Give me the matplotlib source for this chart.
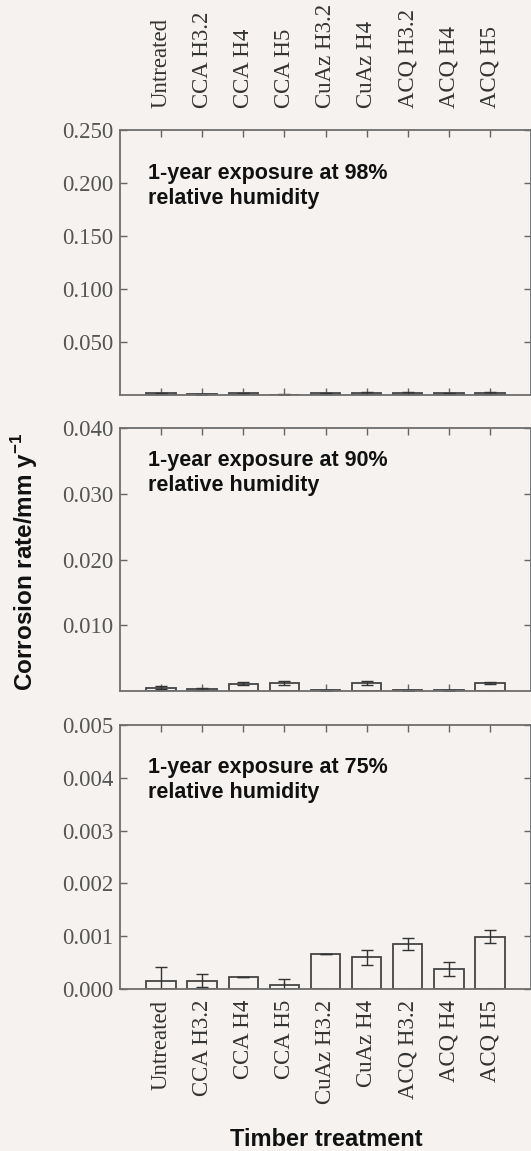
import matplotlib
matplotlib.use("Agg")
import matplotlib.pyplot as plt
import numpy as np

BG = "#f5f2ef"

plt.rcParams.update({
    "figure.facecolor": BG,
    "axes.facecolor": BG,
    "axes.edgecolor": "#6e6e6e",
    "axes.linewidth": 1.3,
    "mathtext.fontset": "custom",
    "mathtext.bf": "Liberation Sans:bold",
    "mathtext.rm": "Liberation Sans:bold",
})

categories = ["Untreated", "CCA H3.2", "CCA H4", "CCA H5", "CuAz H3.2",
              "CuAz H4", "ACQ H3.2", "ACQ H4", "ACQ H5"]

# 98% RH
rh98 = [0.0015, 0.0008, 0.0015, 0.0003, 0.0015, 0.0018, 0.0020, 0.0015, 0.0018]
rh98_err = [0.0008, 0.0005, 0.0008, 0.0005, 0.0006, 0.0008, 0.0012, 0.0008, 0.0008]
# 90% RH
rh90 = [0.0005, 0.0003, 0.0011, 0.0012, 0.0001, 0.0012, 0.0001, 0.0001, 0.0012]
rh90_err = [0.0002, 0.0002, 0.0002, 0.0003, 0.0001, 0.0003, 0.0001, 0.0001, 0.0002]
# 75% RH
rh75 = [0.00016, 0.00016, 0.00022, 0.00007, 0.00067, 0.00060, 0.00085, 0.00038, 0.00099]
rh75_err = [0.00026, 0.00012, 0.0, 0.00011, 0.0, 0.00014, 0.00011, 0.00013, 0.00012]

panel_labels = ["1-year exposure at 98%\nrelative humidity",
                "1-year exposure at 90%\nrelative humidity",
                "1-year exposure at 75%\nrelative humidity"]
ytick_sets = [[0.05, 0.10, 0.15, 0.20, 0.25],
              [0.01, 0.02, 0.03, 0.04],
              [0.000, 0.001, 0.002, 0.003, 0.004, 0.005]]
ytops = [0.25, 0.04, 0.005]

W, H = 531, 1151
# pixel boxes: (top, bottom)
boxes = [(130, 395), (428, 691), (725, 989)]
label_tops = [163, 450, 757]

fig = plt.figure(figsize=(W / 100, H / 100), dpi=100)

serif = "Liberation Serif"
sans = "Liberation Sans"
x = np.arange(1, len(categories) + 1)

for i, (vals, errs) in enumerate([(rh98, rh98_err), (rh90, rh90_err), (rh75, rh75_err)]):
    top, bot = boxes[i]
    ax = fig.add_axes([120 / W, 1 - bot / H, (W - 120) / W, (bot - top) / H])
    ax.bar(x, vals, width=0.72, color=BG, edgecolor="#454545", linewidth=1.3,
           yerr=errs, error_kw=dict(ecolor="#333", elinewidth=1.0, capsize=4, capthick=1.0),
           zorder=2)
    ax.set_xlim(0, 10)
    ax.set_ylim(0, ytops[i])
    ax.set_xticks(x)
    ax.set_yticks(ytick_sets[i])
    ax.set_yticklabels([f"{t:.3f}" for t in ytick_sets[i]], family=serif,
                       fontsize=16.5, color="#555")
    ax.tick_params(axis="both", direction="in", length=5, width=1.0, color="#666",
                   top=True, right=True)
    ax.tick_params(axis="y", pad=5)
    if i == 0:
        ax.tick_params(axis="x", labeltop=True, labelbottom=False, pad=16)
        ax.set_xticklabels(categories, rotation=90, family=serif, fontsize=16.5, color="#333")
    elif i == 2:
        ax.tick_params(axis="x", labelbottom=True, pad=8)
        ax.set_xticklabels(categories, rotation=90, family=serif, fontsize=16.5, color="#333")
    else:
        ax.tick_params(axis="x", labelbottom=False)
    ax.text(148 / W, 1 - label_tops[i] / H, panel_labels[i], transform=fig.transFigure,
            ha="left", va="top", family=sans, fontweight="bold", fontsize=15.5,
            color="#111", linespacing=1.25)

fig.text(326 / W, 1 - 1139 / H, "Timber treatment", ha="center", va="center",
         family=sans, fontweight="bold", fontsize=17, color="#111")
fig.text(25 / W, 1 - 562 / H, r"Corrosion rate/mm y$^{-1}$", rotation=90,
         ha="center", va="center", family=sans, fontweight="bold", fontsize=17.5,
         color="#111")

fig.savefig("out.png", dpi=100, facecolor=BG)
